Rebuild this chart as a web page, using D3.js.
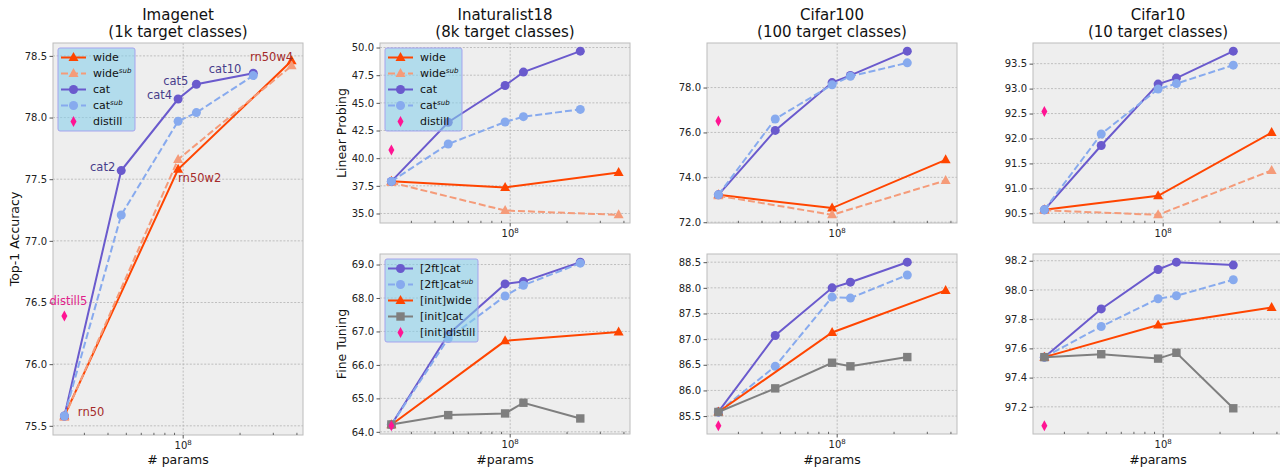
<!DOCTYPE html>
<html>
<head>
<meta charset="utf-8">
<script src="https://cdn.jsdelivr.net/npm/d3@7"></script>
<style>
  body { margin: 0; background: #fff; }
  svg { font-family: "DejaVu Sans", sans-serif; }
</style>
</head>
<body>
<svg id="chart" width="1280" height="467"></svg>
<script>
// parameter counts (x axis, log)
const paramsCat = [23.5e6, 47e6, 94e6, 117.5e6, 235e6];
const paramsWide = [23.5e6, 94e6, 375e6];
const paramsDistill = [23.5e6];

// Imagenet top-1
const imagenetWide = [75.58, 77.58, 78.46];
const imagenetWideSub = [75.57, 77.66, 78.42];
const imagenetCat = [75.58, 77.57, 78.15, 78.27, 78.36];
const imagenetCatSub = [75.58, 77.21, 77.97, 78.04, 78.34];
const imagenetDistill = [76.39];
const imagenetTicks = [75.5, 76.0, 76.5, 77.0, 77.5, 78.0, 78.5];

// Inaturalist18
const inatLpWide = [37.92, 37.35, 38.7];
const inatLpWideSub = [37.8, 35.27, 34.88];
const inatLpCat = [37.9, 43.25, 46.57, 47.78, 49.67];
const inatLpCatSub = [37.9, 41.28, 43.27, 43.75, 44.41];
const inatLpDistill = [40.74];
const inatLpTicks = [35.0, 37.5, 40.0, 42.5, 45.0, 47.5, 50.0];

const inatFtCat = [64.21, 66.91, 68.42, 68.49, 69.07];
const inatFtCatSub = [64.21, 66.79, 68.06, 68.38, 69.04];
const inatFtWide = [64.21, 66.72, 66.98];
const inatFtInitCat = [64.22, 64.5, 64.55, 64.87, 64.4];
const inatFtDistill = [64.18];
const inatFtTicks = [64, 65, 66, 67, 68, 69];

// Cifar100
const c100LpWide = [73.22, 72.63, 74.78];
const c100LpWideSub = [73.18, 72.33, 73.86];
const c100LpCat = [73.22, 76.09, 78.22, 78.54, 79.62];
const c100LpCatSub = [73.22, 76.6, 78.12, 78.5, 79.1];
const c100LpDistill = [76.51];
const c100LpTicks = [72, 74, 76, 78];

const c100FtCat = [85.58, 87.07, 88.0, 88.11, 88.5];
const c100FtCatSub = [85.58, 86.47, 87.82, 87.8, 88.25];
const c100FtWide = [85.58, 87.13, 87.95];
const c100FtInitCat = [85.58, 86.04, 86.54, 86.47, 86.65];
const c100FtDistill = [85.31];
const c100FtTicks = [85.5, 86.0, 86.5, 87.0, 87.5, 88.0, 88.5];

// Cifar10
const c10LpWide = [90.57, 90.85, 92.12];
const c10LpWideSub = [90.56, 90.47, 91.36];
const c10LpCat = [90.57, 91.86, 93.09, 93.21, 93.75];
const c10LpCatSub = [90.57, 92.09, 92.99, 93.1, 93.47];
const c10LpDistill = [92.54];
const c10LpTicks = [90.5, 91.0, 91.5, 92.0, 92.5, 93.0, 93.5];

const c10FtCat = [97.54, 97.87, 98.14, 98.19, 98.17];
const c10FtCatSub = [97.54, 97.75, 97.94, 97.96, 98.07];
const c10FtWide = [97.54, 97.76, 97.88];
const c10FtInitCat = [97.54, 97.56, 97.53, 97.57, 97.19];
const c10FtDistill = [97.07];
const c10FtTicks = [97.2, 97.4, 97.6, 97.8, 98.0, 98.2];

// legends
const lpLegend = [["wide", "wide"], ["wideSub", "wide", "sub"], ["cat", "cat"], ["catSub", "cat", "sub"], ["distill", "distill"]];
const ftLegend = [["cat", "[2ft]cat"], ["catSub", "[2ft]cat", "sub"], ["wide", "[init]wide"], ["initCat", "[init]cat"], ["distill", "[init]distill"]];

// imagenet point labels: series, index, text
const imagenetNotes = [
  { s: "wide", i: 0, text: "rn50", kind: "rn", dx: 13.5, dy: -4, anchor: "start" },
  { s: "wide", i: 1, text: "rn50w2", kind: "rn", dx: 0, dy: 9, anchor: "start" },
  { s: "wide", i: 2, text: "rn50w4", kind: "rn", dx: 1.5, dy: -4, anchor: "end" },
  { s: "cat", i: 1, text: "cat2", kind: "cat", dx: -6, dy: -4, anchor: "end" },
  { s: "cat", i: 2, text: "cat4", kind: "cat", dx: -6, dy: -4, anchor: "end" },
  { s: "cat", i: 3, text: "cat5", kind: "cat", dx: -8, dy: -3.5, anchor: "end" },
  { s: "cat", i: 4, text: "cat10", kind: "cat", dx: -12, dy: -4, anchor: "end" },
  { s: "distill", i: 0, text: "distill5", kind: "distill", dx: 4, dy: -15, anchor: "middle" }
];
const noteColors = { rn: "#a52a2a", cat: "#483d8b", distill: "#e0218a" };

const styles = {
  wide: { color: "#ff4500", marker: "tri" },
  wideSub: { color: "#f59b79", marker: "tri", dash: "7,3" },
  cat: { color: "#6a5acd", marker: "circle" },
  catSub: { color: "#87aaee", marker: "circle", dash: "7,3" },
  initCat: { color: "#7f7f7f", marker: "square" },
  distill: { color: "#ff1493", marker: "diamond", noLine: true }
};

function lp(w, ws, c, cs, d) {
  return [
    { key: "wide", x: paramsWide, y: w },
    { key: "wideSub", x: paramsWide, y: ws },
    { key: "cat", x: paramsCat, y: c },
    { key: "catSub", x: paramsCat, y: cs },
    { key: "distill", x: paramsDistill, y: d }
  ];
}
function ft(c, cs, w, ic, d) {
  return [
    { key: "cat", x: paramsCat, y: c },
    { key: "catSub", x: paramsCat, y: cs },
    { key: "wide", x: paramsWide, y: w },
    { key: "initCat", x: paramsCat, y: ic },
    { key: "distill", x: paramsDistill, y: d }
  ];
}

const topY = 43, topH = 180, botY = 254, botH = 180, W = 250;
const panels = [
  { box: [53, topY, W, 392], title: ["Imagenet", "(1k target classes)"], ylabel: "Top-1 Accuracy", xlabel: "# params",
    series: lp(imagenetWide, imagenetWideSub, imagenetCat, imagenetCatSub, imagenetDistill), ticks: imagenetTicks, fmt: ".1f",
    legend: lpLegend, legendW: 77, notes: imagenetNotes },
  { box: [380, topY, W, topH], title: ["Inaturalist18", "(8k target classes)"], ylabel: "Linear Probing",
    series: lp(inatLpWide, inatLpWideSub, inatLpCat, inatLpCatSub, inatLpDistill), ticks: inatLpTicks, fmt: ".1f",
    legend: lpLegend, legendW: 77 },
  { box: [380, botY, W, botH], ylabel: "Fine Tuning", xlabel: "#params",
    series: ft(inatFtCat, inatFtCatSub, inatFtWide, inatFtInitCat, inatFtDistill), ticks: inatFtTicks, fmt: ".1f",
    legend: ftLegend, legendW: 93 },
  { box: [707, topY, W, topH], title: ["Cifar100", "(100 target classes)"],
    series: lp(c100LpWide, c100LpWideSub, c100LpCat, c100LpCatSub, c100LpDistill), ticks: c100LpTicks, fmt: ".1f" },
  { box: [707, botY, W, botH], xlabel: "#params",
    series: ft(c100FtCat, c100FtCatSub, c100FtWide, c100FtInitCat, c100FtDistill), ticks: c100FtTicks, fmt: ".1f" },
  { box: [1033, topY, W, topH], title: ["Cifar10", "(10 target classes)"],
    series: lp(c10LpWide, c10LpWideSub, c10LpCat, c10LpCatSub, c10LpDistill), ticks: c10LpTicks, fmt: ".1f" },
  { box: [1033, botY, W, botH], xlabel: "#params",
    series: ft(c10FtCat, c10FtCatSub, c10FtWide, c10FtInitCat, c10FtDistill), ticks: c10FtTicks, fmt: ".1f" }
];

const svg = d3.select("#chart");

// x domain like matplotlib: 5% margin in log space
const allX = paramsCat.concat(paramsWide).map(Math.log10);
const lx0 = d3.min(allX), lx1 = d3.max(allX), lpad = (lx1 - lx0) * 0.05;
const xDomain = [10 ** (lx0 - lpad), 10 ** (lx1 + lpad)];
const minorTicks = [2, 3, 4, 5, 6, 7, 8, 9].map(m => m * 1e7).concat([2, 3, 4, 5, 6, 7, 8, 9].map(m => m * 1e8))
  .filter(v => v > xDomain[0] && v < xDomain[1]);

function drawMarker(g, type, x, y, color) {
  if (type === "circle") {
    g.append("circle").attr("cx", x).attr("cy", y).attr("r", 4.5).attr("fill", color);
  } else if (type === "tri") {
    g.append("path").attr("d", `M${x},${y - 5.5}L${x + 5},${y + 3.5}L${x - 5},${y + 3.5}Z`).attr("fill", color);
  } else if (type === "square") {
    g.append("rect").attr("x", x - 4.2).attr("y", y - 4.2).attr("width", 8.4).attr("height", 8.4).attr("fill", color);
  } else if (type === "diamond") {
    g.append("path").attr("d", `M${x},${y - 5.5}L${x + 3},${y}L${x},${y + 5.5}L${x - 3},${y}Z`).attr("fill", color);
  }
}

panels.forEach(p => {
  const [bx, by, bw, bh] = p.box;
  const allY = p.series.flatMap(s => s.y);
  const y0 = d3.min(allY), y1 = d3.max(allY), ypad = (y1 - y0) * 0.05;

  const x = d3.scaleLog().domain(xDomain).range([bx, bx + bw]);
  const y = d3.scaleLinear().domain([y0 - ypad, y1 + ypad]).range([by + bh, by]);

  const g = svg.append("g");
  const clipId = "clip" + bx + "_" + by;
  svg.append("clipPath").attr("id", clipId).append("rect").attr("x", bx).attr("y", by).attr("width", bw).attr("height", bh);

  g.append("rect").attr("x", bx).attr("y", by).attr("width", bw).attr("height", bh).attr("fill", "#eeeeee");

  // grid
  const grid = g.append("g").attr("stroke", "#b2b2b2").attr("stroke-width", 0.8).attr("stroke-dasharray", "2,1.6");
  p.ticks.forEach(t => {
    grid.append("line").attr("x1", bx).attr("x2", bx + bw).attr("y1", y(t)).attr("y2", y(t));
  });
  grid.append("line").attr("x1", x(1e8)).attr("x2", x(1e8)).attr("y1", by).attr("y2", by + bh);

  // series
  const plot = g.append("g").attr("clip-path", `url(#${clipId})`);
  p.series.forEach(s => {
    const st = styles[s.key];
    const pts = s.x.map((v, i) => [x(v), y(s.y[i])]);
    if (!st.noLine) {
      plot.append("path").attr("d", d3.line()(pts)).attr("fill", "none")
        .attr("stroke", st.color).attr("stroke-width", 2)
        .attr("stroke-dasharray", st.dash || null);
    }
    pts.forEach(pt => drawMarker(plot, st.marker, pt[0], pt[1], st.color));
  });

  // frame
  g.append("rect").attr("x", bx).attr("y", by).attr("width", bw).attr("height", bh)
    .attr("fill", "none").attr("stroke", "#bcbcbc").attr("stroke-width", 1);

  // y axis
  const yAxis = d3.axisLeft(y).tickValues(p.ticks).tickFormat(d3.format(p.fmt)).tickSize(3.5).tickPadding(2.5);
  const ya = g.append("g").attr("transform", `translate(${bx},0)`).call(yAxis);
  ya.select(".domain").remove();
  ya.selectAll(".tick line").attr("stroke", "#555");
  ya.selectAll("text").attr("font-size", 10).attr("fill", "#222").attr("font-family", "DejaVu Sans");

  // x axis: 10^8 label + minor ticks
  const xa = g.append("g");
  xa.append("line").attr("x1", x(1e8)).attr("x2", x(1e8)).attr("y1", by + bh).attr("y2", by + bh + 3.5).attr("stroke", "#555");
  minorTicks.forEach(t => {
    xa.append("line").attr("x1", x(t)).attr("x2", x(t)).attr("y1", by + bh).attr("y2", by + bh - 2.2)
      .attr("stroke", "#444").attr("stroke-width", 0.8);
  });
  const lab = xa.append("text").attr("x", x(1e8)).attr("y", by + bh + 14).attr("text-anchor", "middle")
    .attr("font-size", 10).attr("fill", "#222");
  lab.append("tspan").text("10");
  lab.append("tspan").attr("font-size", 7).attr("dy", -4.5).text("8");

  if (p.title) {
    p.title.forEach((t, i) => {
      svg.append("text").attr("x", bx + bw / 2).attr("y", 20 + i * 17).attr("text-anchor", "middle")
        .attr("font-size", 15).attr("fill", "#111").text(t);
    });
  }
  if (p.xlabel) {
    svg.append("text").attr("x", bx + bw / 2).attr("y", 463.5).attr("text-anchor", "middle")
      .attr("font-size", 12.5).attr("fill", "#111").text(p.xlabel);
  }
  if (p.ylabel) {
    svg.append("text").attr("transform", `translate(${bx - 34},${by + bh / 2}) rotate(-90)`)
      .attr("text-anchor", "middle").attr("font-size", 12.5).attr("fill", "#111").text(p.ylabel);
  }

  // point labels
  if (p.notes) {
    p.notes.forEach(n => {
      const s = p.series.find(d => d.key === n.s);
      svg.append("text").attr("x", x(s.x[n.i]) + n.dx).attr("y", y(s.y[n.i]) + n.dy).attr("dy", "0.35em")
        .attr("text-anchor", n.anchor).attr("font-size", 11.5).attr("fill", noteColors[n.kind]).text(n.text);
    });
  }

  // legend
  if (p.legend) {
    const lx = bx + 5, ly = by + 5, lh = 83;
    const lg = svg.append("g");
    lg.append("rect").attr("x", lx).attr("y", ly).attr("width", p.legendW).attr("height", lh).attr("rx", 2)
      .attr("fill", "#87ceeb").attr("fill-opacity", 0.58).attr("stroke", "#a5a3ee").attr("stroke-width", 1);
    p.legend.forEach((e, i) => {
      const st = styles[e[0]];
      const cy = ly + 9.5 + i * 16;
      if (!st.noLine) {
        lg.append("line").attr("x1", lx + 3).attr("x2", lx + 28).attr("y1", cy).attr("y2", cy)
          .attr("stroke", st.color).attr("stroke-width", 2).attr("stroke-dasharray", st.dash || null);
      }
      drawMarker(lg, st.marker, lx + 15.5, cy, st.color);
      const t = lg.append("text").attr("x", lx + 35).attr("y", cy).attr("dy", "0.35em")
        .attr("font-size", 11).attr("fill", "#111");
      t.append("tspan").text(e[1]);
      if (e[2]) {
        t.append("tspan").attr("font-size", 7).attr("font-style", "italic").attr("dy", -4).text(e[2]);
      }
    });
  }
});
</script>
</body>
</html>
